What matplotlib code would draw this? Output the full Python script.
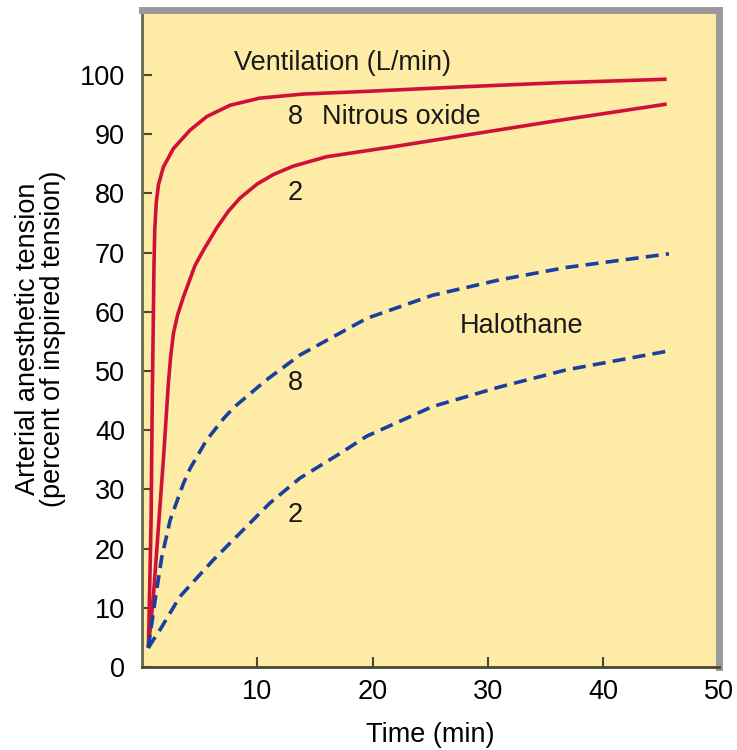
import matplotlib.pyplot as plt

plt.rcParams['font.family'] = ['Liberation Sans', 'DejaVu Sans']

# nitrous oxide, ventilation 8 L/min
n2o_8_t = [0.57, 0.8, 0.9, 1.0, 1.05, 1.12, 1.25, 1.44, 1.87, 2.74, 4.18, 5.63, 7.65, 10.2, 14.0, 18.9, 27.6, 36.0, 45.5]
n2o_8_y = [3.4, 25.0, 45.0, 60.0, 68.0, 74.0, 78.5, 81.5, 84.5, 87.6, 90.7, 93.0, 94.9, 96.1, 96.8, 97.2, 98.0, 98.7, 99.3]

# nitrous oxide, ventilation 2 L/min
n2o_2_t = [0.57, 1.0, 1.3, 1.6, 1.9, 2.1, 2.3, 2.5, 2.74, 3.1, 3.6, 4.6, 5.3, 6.5, 7.5, 8.5, 10.0, 11.4, 13.1, 16.0, 21.8, 27.6, 36.0, 45.5]
n2o_2_y = [3.4, 12.0, 20.0, 28.0, 36.0, 42.0, 48.0, 52.5, 56.4, 59.5, 62.5, 67.8, 70.3, 74.2, 77.0, 79.2, 81.6, 83.2, 84.6, 86.2, 87.9, 89.7, 92.3, 95.1]

# halothane, ventilation 8 L/min
hal_8_t = [0.55, 1.15, 1.73, 2.45, 3.6, 4.2, 5.6, 7.1, 8.0, 10.8, 13.7, 19.5, 25.2, 31.0, 36.8, 45.7]
hal_8_y = [3.2, 11.3, 18.6, 24.8, 31.0, 33.6, 38.3, 42.0, 43.9, 48.5, 52.7, 58.9, 62.8, 65.4, 67.5, 69.8]

# halothane, ventilation 2 L/min
hal_2_t = [0.55, 1.0, 1.58, 3.3, 6.2, 8.5, 11.1, 13.7, 17.2, 19.5, 25.2, 31.0, 36.8, 45.7]
hal_2_y = [3.2, 4.6, 6.3, 11.9, 18.1, 22.6, 27.7, 31.9, 36.1, 39.0, 44.0, 47.3, 50.2, 53.4]

x_ticks = [10, 20, 30, 40, 50]
y_ticks = [0, 10, 20, 30, 40, 50, 60, 70, 80, 90, 100]

red = '#d0103a'
blue = '#1a3f9e'
fs = 19.5

fig = plt.figure(figsize=(7.37, 7.5), dpi=100)
ax = fig.add_axes([0.1925, 0.1107, 0.7825, 0.876])
ax.set_facecolor('#fdeba6')

ax.plot(n2o_8_t, n2o_8_y, color=red, lw=2.6, solid_capstyle='butt')
ax.plot(n2o_2_t, n2o_2_y, color=red, lw=2.6, solid_capstyle='butt')
ax.plot(hal_8_t, hal_8_y, color=blue, lw=2.6, linestyle=(0, (3.6, 2.0)), dash_capstyle='butt')
ax.plot(hal_2_t, hal_2_y, color=blue, lw=2.6, linestyle=(0, (3.6, 2.0)), dash_capstyle='butt')

ax.set_xlim(0, 50)
ax.set_ylim(0, 111)
ax.set_xticks(x_ticks)
ax.set_yticks(y_ticks)
ax.tick_params(direction='in', length=7, width=1.5, color='#4a4a30', labelsize=fs)
ax.tick_params(axis='y', pad=12)
ax.tick_params(axis='x', pad=9)

ax.spines['left'].set_color('#6b6645')
ax.spines['left'].set_linewidth(2)
ax.spines['bottom'].set_color('#4a4a30')
ax.spines['bottom'].set_linewidth(2)
ax.spines['top'].set_color('#9a9a9a')
ax.spines['top'].set_linewidth(5)
ax.spines['right'].set_color('#9a9a9a')
ax.spines['right'].set_linewidth(5)

txt = dict(fontsize=fs, color='#1a1a1a')
ax.text(17.4, 102, 'Ventilation (L/min)', ha='center', va='center', **txt)
ax.text(13.3, 92.9, '8', ha='center', va='center', **txt)
ax.text(15.6, 93.0, 'Nitrous oxide', ha='left', va='center', **txt)
ax.text(13.3, 80.0, '2', ha='center', va='center', **txt)
ax.text(32.9, 57.6, 'Halothane', ha='center', va='center', **txt)
ax.text(13.3, 48.0, '8', ha='center', va='center', **txt)
ax.text(13.3, 25.7, '2', ha='center', va='center', **txt)

ax.set_xlabel('Time (min)', fontsize=fs, labelpad=12)
ax.set_ylabel('Arterial anesthetic tension\n(percent of inspired tension)', fontsize=fs, labelpad=10, linespacing=0.95)

fig.savefig('out.png', dpi=100)
